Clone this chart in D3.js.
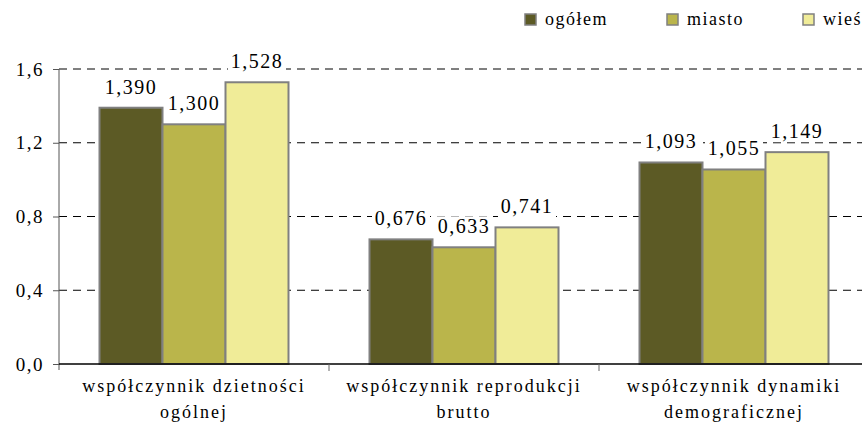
<!DOCTYPE html>
<html>
<head>
<meta charset="utf-8">
<script src="https://cdn.jsdelivr.net/npm/d3@7/dist/d3.min.js"></script>
<style>
  body { margin: 0; background: #fff; }
</style>
</head>
<body>
<svg id="wykres" width="862" height="439"></svg>
<script>
// dane
var kategorie = [
  ["współczynnik dzietności", "ogólnej"],
  ["współczynnik reprodukcji", "brutto"],
  ["współczynnik dynamiki", "demograficznej"]
];
var serie = ["ogółem", "miasto", "wieś"];
var ogolem = [1.390, 0.676, 1.093];
var miasto = [1.300, 0.633, 1.055];
var wies = [1.528, 0.741, 1.149];
var ticksY = [0, 0.4, 0.8, 1.2, 1.6];

var kolory = ["#5c5a25", "#bab54b", "#f0ec98"];
var wartosci = [ogolem, miasto, wies];
var czcionka = "Times New Roman, Liberation Serif, Tinos, Noto Serif, FreeSerif, DejaVu Serif, serif";

var svg = d3.select("#wykres");
var lewo = 59, prawo = 869, dol = 364, gora = 69;

var x0 = d3.scaleBand()
  .domain(d3.range(kategorie.length))
  .range([lewo, prawo])
  .paddingInner(0.3)
  .paddingOuter(0.15);

var x1 = d3.scaleBand()
  .domain(d3.range(serie.length))
  .range([0, x0.bandwidth()]);

var y = d3.scaleLinear().domain([0, 1.6]).range([dol, gora]);

var fmt = function(v, d){ return v.toFixed(d).replace(".", ","); };

// siatka
svg.append("g")
  .selectAll("line")
  .data(ticksY.slice(1))
  .enter()
  .append("line")
  .attr("x1", lewo)
  .attr("x2", 862)
  .attr("y1", d => y(d))
  .attr("y2", d => y(d))
  .attr("stroke", "#000")
  .attr("stroke-width", 1)
  .attr("stroke-dasharray", "8,6");

// os Y
var osY = svg.append("g")
  .attr("transform", "translate(" + lewo + ",0)")
  .call(d3.axisLeft(y).tickValues(ticksY).tickSize(6).tickPadding(9).tickFormat(d => fmt(d, 1)));
osY.attr("font-family", czcionka);
osY.select(".domain").attr("stroke", "#555").attr("d", "M0," + (dol + 6) + "V" + gora);
osY.selectAll(".tick line").attr("stroke", "#555");
osY.selectAll("text")
  .style("font-family", czcionka)
  .style("font-size", "19px")
  .style("letter-spacing", "1.5px")
  .attr("fill", "#000");

// słupki
var grupy = svg.append("g")
  .selectAll("g")
  .data(kategorie)
  .enter()
  .append("g")
  .attr("transform", (d, i) => "translate(" + x0(i) + ",0)");

grupy.selectAll("rect")
  .data((d, i) => wartosci.map((s, j) => ({ s: j, v: s[i] })))
  .enter()
  .append("rect")
  .attr("x", d => x1(d.s))
  .attr("y", d => y(d.v))
  .attr("width", x1.bandwidth())
  .attr("height", d => dol - y(d.v))
  .attr("fill", d => kolory[d.s])
  .attr("stroke", "#808080")
  .attr("stroke-width", 2);

// etykiety wartosci
var etykiety = grupy.selectAll("g.et")
  .data((d, i) => wartosci.map((s, j) => ({ s: j, v: s[i] })))
  .enter()
  .append("g")
  .attr("class", "et")
  .attr("transform", d => "translate(" + (x1(d.s) + x1.bandwidth() / 2) + "," + (y(d.v) - 14) + ")");

etykiety.append("rect")
  .attr("x", -29)
  .attr("y", -17)
  .attr("width", 58)
  .attr("height", 21)
  .attr("fill", "#fff");

etykiety.append("text")
  .attr("text-anchor", "middle")
  .style("font-family", czcionka)
  .style("font-size", "20px")
  .style("letter-spacing", "1.5px")
  .attr("fill", "#000")
  .text(d => fmt(d.v, 3));

// os X
svg.append("line")
  .attr("x1", lewo).attr("x2", 862)
  .attr("y1", dol).attr("y2", dol)
  .attr("stroke", "#000")
  .attr("stroke-width", 1.5);

svg.append("g")
  .selectAll("line")
  .data(d3.range(1, kategorie.length))
  .enter()
  .append("line")
  .attr("x1", i => x0(i) - x0.step() * 0.15)
  .attr("x2", i => x0(i) - x0.step() * 0.15)
  .attr("y1", dol)
  .attr("y2", dol + 7)
  .attr("stroke", "#666");

var podpisy = svg.append("g")
  .selectAll("text")
  .data(kategorie)
  .enter()
  .append("text")
  .attr("text-anchor", "middle")
  .attr("x", (d, i) => x0(i) + x0.bandwidth() / 2)
  .attr("y", 392)
  .style("font-family", czcionka)
  .style("font-size", "18px")
  .style("letter-spacing", "2px")
  .attr("fill", "#000");

podpisy.selectAll("tspan")
  .data(d => d)
  .enter()
  .append("tspan")
  .attr("x", function(){ return d3.select(this.parentNode).attr("x"); })
  .attr("dy", (d, i) => i == 0 ? 0 : 26)
  .text(d => d);

// legenda
var legX = [525, 667, 803];
var legenda = svg.append("g")
  .selectAll("g")
  .data(serie)
  .enter()
  .append("g")
  .attr("transform", (d, i) => "translate(" + legX[i] + ",14)");

legenda.append("rect")
  .attr("width", 11)
  .attr("height", 11)
  .attr("fill", (d, i) => kolory[i])
  .attr("stroke", "#808080")
  .attr("stroke-width", 1.5);

legenda.append("text")
  .attr("x", 20)
  .attr("y", 11)
  .style("font-family", czcionka)
  .style("font-size", "18px")
  .style("letter-spacing", "1.5px")
  .attr("fill", "#000")
  .text(d => d);
</script>
</body>
</html>
